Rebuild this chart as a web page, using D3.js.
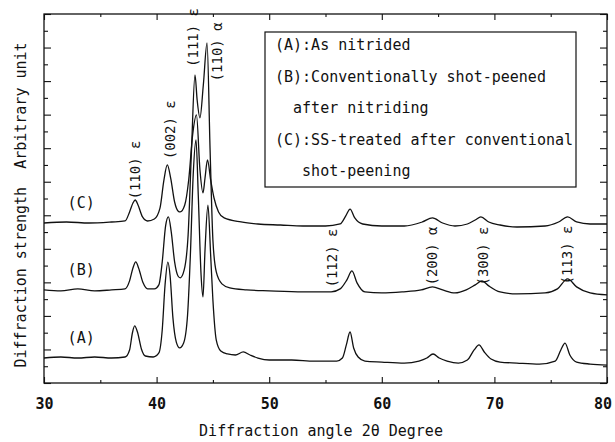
<!DOCTYPE html>
<html>
<head>
<meta charset="utf-8">
<script src="https://cdn.jsdelivr.net/npm/d3@7"></script>
<style>
  body { margin: 0; background: #fff; }
  text { font-family: "DejaVu Sans Mono", "Liberation Mono", monospace; fill: #111; }
</style>
</head>
<body>
<svg id="chart-svg"></svg>
<script>
// 2theta (deg), intensity in arbitrary units above each offset
const thetaA = [30, 31.5, 33, 34.5, 36, 37.2, 37.6, 37.85, 38.05, 38.3, 38.65, 39.0, 39.7, 40.2, 40.5, 40.75, 41.0, 41.2, 41.45, 41.75, 42.05, 42.4, 42.75, 43.0, 43.25, 43.5, 43.7, 43.95, 44.12, 44.3, 44.56, 44.8, 45.0, 45.3, 45.7, 46.3, 47.0, 47.7, 48.3, 49.0, 50, 52, 54, 56.0, 56.5, 56.85, 57.18, 57.5, 57.9, 58.5, 60, 62, 63.3, 64.0, 64.55, 65.1, 65.8, 66.8, 67.6, 68.2, 68.63, 69.1, 69.7, 70.5, 72, 74, 75.4, 75.9, 76.27, 76.7, 77.3, 78.5, 80];
const intA = [0, 0.06, 0, 0.06, 0, 0.06, 0.48, 1.49, 1.91, 1.55, 0.54, 0.12, 0.06, 0.30, 1.67, 4.35, 5.72, 4.89, 2.39, 0.95, 0.60, 0.89, 2.56, 6.14, 10.91, 13.0, 9.72, 4.95, 3.64, 6.44, 9.12, 6.14, 3.46, 1.07, 0.42, 0.24, 0.18, 0.36, 0.18, 0, -0.12, -0.12, -0.18, -0.18, 0, 0.78, 1.55, 0.60, 0.06, -0.18, -0.24, -0.30, -0.18, 0, 0.24, 0, -0.18, -0.30, -0.12, 0.48, 0.78, 0.36, -0.06, -0.24, -0.30, -0.36, -0.18, 0.48, 0.89, 0.18, -0.24, -0.36, -0.42];

const thetaB = [30, 31.5, 33, 34.5, 36, 37.2, 37.6, 37.9, 38.15, 38.4, 38.8, 39.2, 39.8, 40.2, 40.5, 40.8, 41.05, 41.3, 41.6, 41.9, 42.1, 42.45, 42.8, 43.1, 43.41, 43.6, 43.85, 44.15, 44.48, 44.75, 45.0, 45.3, 45.8, 46.5, 48, 50, 53, 55.5, 56.3, 56.9, 57.35, 57.8, 58.5, 60, 61.8, 63.5, 64.5, 65.4, 66.5, 67.5, 68.3, 68.9, 69.5, 70.5, 72, 74.5, 75.6, 76.5, 77.3, 78.5, 80];
const intB = [0, -0.06, 0.06, -0.06, 0, 0.06, 0.54, 1.31, 1.67, 1.31, 0.42, 0.06, 0.06, 0.30, 1.67, 3.82, 4.35, 3.46, 1.67, 0.83, 0.72, 1.19, 3.28, 8.35, 12.82, 11.33, 10.26, 12.22, 14.73, 8.35, 2.98, 1.07, 0.36, 0.12, 0, -0.06, -0.12, -0.12, 0.06, 0.60, 1.13, 0.42, -0.12, -0.18, -0.12, 0, 0.18, 0, -0.18, 0, 0.30, 0.54, 0.24, -0.12, -0.24, -0.18, 0.06, 0.66, 0.18, -0.18, -0.30];

const thetaC = [30, 32, 34, 36, 37.2, 37.6, 37.9, 38.1, 38.35, 38.75, 39.2, 39.8, 40.3, 40.65, 40.95, 41.25, 41.6, 41.9, 42.1, 42.5, 42.85, 43.2, 43.54, 43.85, 44.12, 44.3, 44.52, 44.8, 45.1, 45.5, 46.0, 47.5, 49, 51, 53, 55, 56.3, 56.8, 57.18, 57.6, 58.3, 60, 62, 63.6, 64.5, 65.4, 66.5, 67.6, 68.3, 68.8, 69.5, 70.5, 72, 74.5, 75.7, 76.5, 77.3, 78.5, 80];
const intC = [0, 0.06, 0, 0.06, 0.12, 0.66, 1.19, 1.37, 1.07, 0.36, 0.12, 0.24, 0.89, 2.56, 3.46, 2.68, 1.25, 0.72, 0.66, 1.07, 2.56, 5.25, 6.44, 3.16, 1.79, 2.68, 3.76, 2.57, 1.49, 0.66, 0.30, 0.06, -0.06, -0.12, -0.18, -0.18, -0.06, 0.42, 0.83, 0.30, -0.06, -0.18, -0.18, 0.06, 0.30, 0, -0.18, -0.06, 0.18, 0.36, 0.06, -0.12, -0.24, -0.18, 0.06, 0.36, 0.06, -0.06, -0.06];

const seriesNames = ["(A)", "(B)", "(C)"];
const seriesOffsets = [1.49, 5.55, 9.54];

const xTicks = [30, 40, 50, 60, 70, 80];
const xMinorTicks = [35, 45, 55, 65, 75];

const peakNames = ["(110) ε", "(002) ε", "(111) ε", "(110) α", "(112) ε", "(200) α", "(300) ε", "(113) ε"];
const peakLabelTheta = [38.05, 41.2, 43.2, 45.35, 55.6, 64.5, 69.0, 76.5];
const peakLabelLevel = [12.7, 15.1, 20.6, 19.74, 7.45, 7.57, 7.57, 7.63];

const legendLines = ["(A):As nitrided", "(B):Conventionally shot-peened", "  after nitriding", "(C):SS-treated after conventional", "   shot-peening"];

const svgWidth = 615, svgHeight = 442;
const margin = {top: 14, right: 8, bottom: 59, left: 44};
const width = svgWidth - margin.left - margin.right;
const height = svgHeight - margin.top - margin.bottom;

const svg = d3.select("#chart-svg")
    .attr("width", svgWidth)
    .attr("height", svgHeight);
const g = svg.append("g")
    .attr("transform", `translate(${margin.left},${margin.top})`);

const x = d3.scaleLinear().domain([30, 80]).range([0, width]);
const y = d3.scaleLinear().domain([0, 22]).range([height, 0]);

// frame
g.append("rect")
    .attr("width", width)
    .attr("height", height)
    .attr("fill", "none")
    .attr("stroke", "#111")
    .attr("stroke-width", 1.3);

// x axes, ticks pointing inwards
const xAxis = g.append("g")
    .attr("transform", `translate(0,${height})`)
    .call(d3.axisBottom(x).tickValues(xTicks).tickSize(-6).tickPadding(15).tickFormat(d3.format("d")));
g.append("g")
    .attr("transform", `translate(0,${height})`)
    .call(d3.axisBottom(x).tickValues(xMinorTicks).tickSize(-3).tickFormat(""));
g.append("g")
    .call(d3.axisTop(x).tickValues(xTicks).tickSize(-6).tickFormat(""));
g.append("g")
    .call(d3.axisTop(x).tickValues(xMinorTicks).tickSize(-3).tickFormat(""));

// y axes, no labels, long and short ticks
const yMajor = d3.range(0, 23, 2);
const yMinor = d3.range(1, 22, 2);
g.append("g").call(d3.axisLeft(y).tickValues(yMajor).tickSize(-7).tickFormat(""));
g.append("g").call(d3.axisLeft(y).tickValues(yMinor).tickSize(-4).tickFormat(""));
g.append("g").attr("transform", `translate(${width},0)`)
    .call(d3.axisRight(y).tickValues(yMajor).tickSize(-7).tickFormat(""));
g.append("g").attr("transform", `translate(${width},0)`)
    .call(d3.axisRight(y).tickValues(yMinor).tickSize(-4).tickFormat(""));

g.selectAll(".domain").remove();
g.selectAll(".tick line").attr("stroke", "#111").attr("stroke-width", 1.1);
xAxis.selectAll("text")
    .style("font-size", "15px")
    .style("font-weight", "bold")
    .style("font-family", "'DejaVu Sans Mono', monospace")
    .attr("fill", "#111")
    .attr("dx", d => d === 80 ? "-0.3em" : 0);

// scans
const series = [
    {theta: thetaA, val: intA},
    {theta: thetaB, val: intB},
    {theta: thetaC, val: intC}
];
const line = d3.line()
    .x(d => x(d[0]))
    .y(d => y(d[1]))
    .curve(d3.curveMonotoneX);

series.forEach((s, i) => {
    const pts = s.theta.map((t, k) => [t, s.val[k] + seriesOffsets[i]]);
    g.append("path")
        .datum(pts)
        .attr("d", line)
        .attr("fill", "none")
        .attr("stroke", "#111")
        .attr("stroke-width", 1.3)
        .attr("stroke-linejoin", "round");
    g.append("text")
        .text(seriesNames[i])
        .attr("x", x(33.3))
        .attr("y", y(seriesOffsets[i] + 0.9))
        .attr("text-anchor", "middle")
        .style("font-size", "15px");
});

// peak labels (rotated)
peakNames.forEach((p, i) => {
    const cx = x(peakLabelTheta[i]), cy = y(peakLabelLevel[i]);
    g.append("text")
        .text(p)
        .attr("transform", `translate(${cx},${cy}) rotate(-90)`)
        .attr("text-anchor", "middle")
        .attr("dy", "0.35em")
        .style("font-size", "14px");
});

// legend box
const legend = svg.append("g");
legend.append("rect")
    .attr("x", 265)
    .attr("y", 32)
    .attr("width", 311)
    .attr("height", 155)
    .attr("fill", "#fff")
    .attr("stroke", "#111")
    .attr("stroke-width", 1.2);
legend.selectAll("text.leg")
    .data(legendLines)
    .join("text")
    .attr("class", "leg")
    .attr("x", 275)
    .attr("y", (d, i) => 50 + i * 31.5)
    .attr("xml:space", "preserve")
    .style("white-space", "pre")
    .style("font-size", "15px")
    .text(d => d);

// axis titles
svg.append("text")
    .text("Diffraction angle 2θ Degree")
    .attr("x", 321)
    .attr("y", 436)
    .attr("text-anchor", "middle")
    .style("font-size", "15px");
svg.append("text")
    .text("Diffraction strength  Arbitrary unit")
    .attr("transform", "translate(21,205) rotate(-90)")
    .attr("text-anchor", "middle")
    .attr("dy", "0.35em")
    .style("white-space", "pre")
    .style("font-size", "15px");
</script>
</body>
</html>
